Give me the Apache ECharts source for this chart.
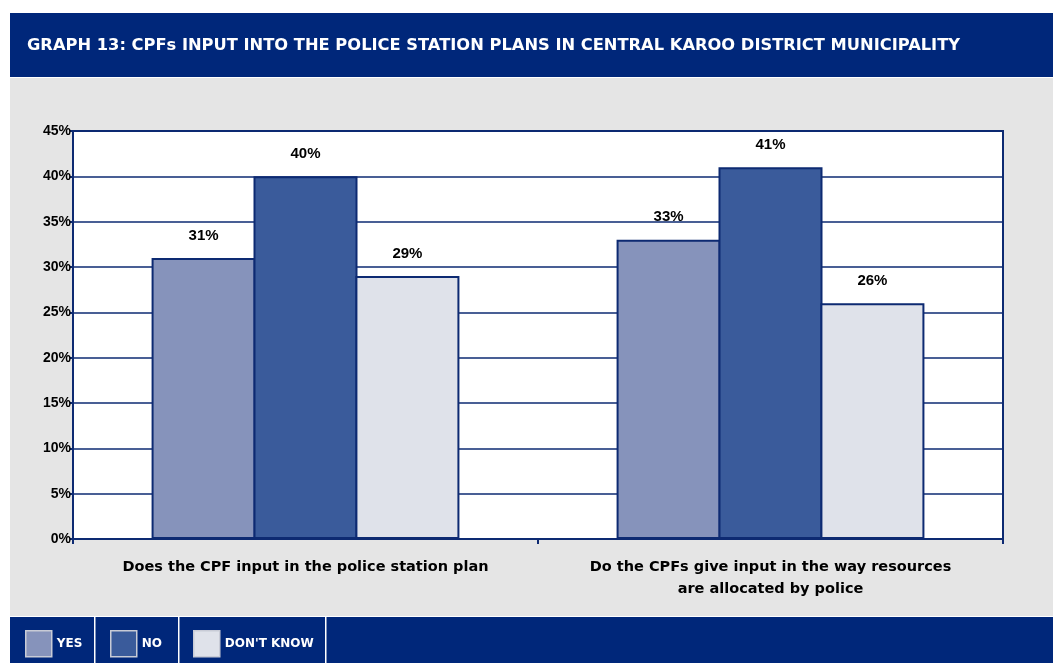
<!DOCTYPE html>
<html>
<head>
<meta charset="utf-8">
<style>
  html, body { margin: 0; padding: 0; background: #ffffff; }
  #main { width: 1053px; height: 663px; }
</style>
<script src="https://cdn.jsdelivr.net/npm/echarts@6/dist/echarts.min.js"></script>
</head>
<body>
<div id="main"></div>
<script>
var categories = [
  'Does the CPF input in the police station plan',
  'Do the CPFs give input in the way resources\nare allocated by police'
];
var yes = [31, 33];
var no = [40, 41];
var dontKnow = [29, 26];

var navy = '#00277a';
var frame = '#0d2a72';
var gothic = '"DejaVu Sans", sans-serif';
var arial = '"Liberation Sans", Arial, sans-serif';

var chart = echarts.init(document.getElementById('main'));

function barSeries(name, data, color) {
  return {
    name: name,
    type: 'bar',
    data: data,
    barWidth: 104,
    barGap: '-2%',
    itemStyle: { color: color, borderColor: frame, borderWidth: 2 },
    label: {
      show: true,
      position: 'top',
      distance: 15,
      formatter: '{c}%',
      color: '#000',
      fontFamily: arial,
      fontWeight: 'bold',
      fontSize: 15
    }
  };
}

chart.setOption({
  backgroundColor: '#ffffff',
  animation: false,
  graphic: [
    { type: 'rect', z: -10, shape: { x: 10, y: 13, width: 1043, height: 64 }, style: { fill: navy } },
    { type: 'rect', z: -10, shape: { x: 10, y: 78, width: 1043, height: 538 }, style: { fill: '#e5e5e5' } },
    { type: 'rect', z: -10, shape: { x: 10, y: 617, width: 1043, height: 46 }, style: { fill: navy } },
    { type: 'rect', z: -9, shape: { x: 94, y: 617, width: 1.5, height: 46 }, style: { fill: '#ffffff' } },
    { type: 'rect', z: -9, shape: { x: 178, y: 617, width: 1.5, height: 46 }, style: { fill: '#ffffff' } },
    { type: 'rect', z: -9, shape: { x: 325, y: 617, width: 1.5, height: 46 }, style: { fill: '#ffffff' } }
  ],
  title: {
    text: 'GRAPH 13: CPFs INPUT INTO THE POLICE STATION PLANS IN CENTRAL KAROO DISTRICT MUNICIPALITY',
    left: 22,
    top: 33,
    textStyle: { color: '#ffffff', fontFamily: gothic, fontWeight: 'bold', fontSize: 16.3 }
  },
  legend: [
    { data: ['YES'], left: 25, top: 630 },
    { data: ['NO'], left: 110, top: 630 },
    { data: ['DON\'T KNOW'], left: 193, top: 630 }
  ].map(function (l) {
    l.padding = 0;
    l.itemWidth = 26;
    l.itemHeight = 26;
    l.icon = 'rect';
    l.itemStyle = { borderColor: '#c8cbd6', borderWidth: 1.5 };
    l.textStyle = { color: '#ffffff', fontFamily: gothic, fontWeight: 'bold', fontSize: 12 };
    l.selectedMode = false;
    return l;
  }),
  grid: {
    left: 73,
    right: 50,
    top: 131,
    bottom: 124,
    show: true,
    backgroundColor: '#ffffff',
    borderColor: frame,
    borderWidth: 2
  },
  xAxis: {
    type: 'category',
    data: categories,
    axisLine: { lineStyle: { color: frame, width: 2 } },
    axisTick: { show: true, interval: 0, length: 5, lineStyle: { color: frame, width: 2 } },
    axisLabel: {
      interval: 0,
      margin: 17,
      color: '#000',
      fontFamily: gothic,
      fontWeight: 'bold',
      fontSize: 14.5,
      lineHeight: 22
    }
  },
  yAxis: {
    type: 'value',
    min: 0,
    max: 45,
    interval: 5,
    axisLine: { show: true, lineStyle: { color: frame, width: 2 } },
    axisTick: { show: true, length: 3, lineStyle: { color: frame, width: 2 } },
    splitLine: { lineStyle: { color: frame, width: 1.5 } },
    axisLabel: {
      formatter: '{value}%',
      margin: 2,
      color: '#000',
      fontFamily: arial,
      fontWeight: 'bold',
      fontSize: 14
    }
  },
  series: [
    barSeries('YES', yes, '#8693bb'),
    barSeries('NO', no, '#3a5b9b'),
    barSeries('DON\'T KNOW', dontKnow, '#dfe2ea')
  ]
});
</script>
</body>
</html>
